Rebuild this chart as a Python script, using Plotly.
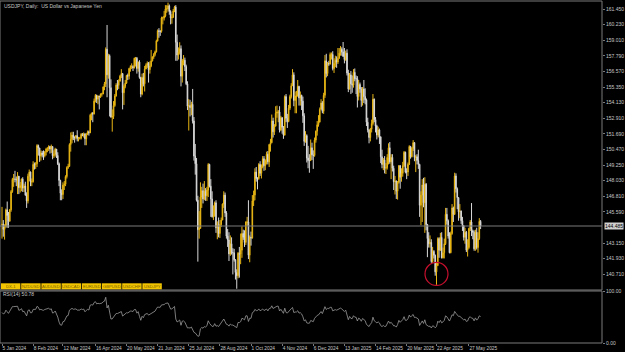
import numpy as np
import pandas as pd
import plotly.graph_objects as go

# ---------------- data (USDJPY daily) ----------------
closes = [
    144.62,
    144.22, 144.45, 145.75, 145.30, 144.85,
    145.75, 147.18, 148.13, 148.15, 148.14,
    148.10, 148.38, 147.48, 147.65, 148.15,
    147.45, 147.62, 146.90, 146.45, 148.38,
    148.70, 147.92, 147.95, 149.30, 149.28,
    149.35, 150.78, 150.58, 149.95, 150.20,
    150.05, 149.98, 150.28, 150.50, 150.52,
    150.70, 150.50, 150.70, 149.98, 150.10,
    150.50, 150.00, 149.35, 148.05, 147.05,
    146.95, 147.68, 147.75, 148.35, 149.05,
    149.15, 150.85, 151.25, 151.60, 151.40,
    151.40, 151.55, 151.33, 151.35, 151.35,
    151.65, 151.57, 151.67, 151.30, 151.62,
    151.85, 151.77, 153.15, 153.30, 153.25,
    154.25, 154.70, 154.40, 154.65, 154.60,
    154.80, 154.80, 155.35, 155.60, 158.30,
    156.30, 157.80, 155.30, 153.00, 153.05,
    153.90, 154.65, 155.50, 155.48, 155.80,
    156.20, 156.40, 154.90, 155.40, 155.65,
    156.25, 156.20, 156.80, 156.95, 156.95,
    156.85, 157.60, 157.60, 156.80, 157.30,
    156.10, 154.80, 156.10, 155.60, 156.75,
    157.05, 157.20, 156.70, 157.00, 157.40,
    157.70, 157.90, 158.10, 158.95, 159.75,
    159.70, 159.70, 160.75, 160.75, 160.90,
    161.45, 161.45, 161.70, 161.25, 160.75,
    160.80, 161.30, 161.60, 158.85, 157.85,
    158.05, 158.35, 156.20, 157.40, 157.45,
    156.95, 155.60, 153.85, 153.90, 153.75,
    154.00, 152.70, 149.95, 149.35, 146.50,
    144.20, 144.30, 146.75, 147.25, 146.60,
    147.20, 146.85, 147.30, 149.30, 147.60,
    146.60, 145.20, 145.25, 146.30, 144.35,
    144.55, 143.90, 144.60, 144.95, 146.20,
    146.90, 145.50, 143.70, 143.40, 142.30,
    143.10, 142.40, 142.40, 141.85, 140.85,
    140.60, 142.35, 142.30, 142.60, 143.90,
    143.60, 143.20, 144.80, 144.80, 142.20,
    143.60, 143.55, 146.45, 146.90, 148.70,
    148.20, 148.20, 149.30, 148.60, 149.10,
    149.75, 149.20, 149.60, 150.10, 149.50,
    150.85, 151.00, 152.70, 151.85, 152.30,
    153.30, 153.40, 153.40, 152.00, 152.95,
    152.20, 151.60, 154.60, 152.90, 152.65,
    153.70, 154.60, 155.45, 156.30, 154.30,
    154.65, 154.65, 155.40, 154.50, 154.70,
    154.25, 153.10, 151.10, 151.55, 149.80,
    149.60, 149.60, 150.60, 150.05, 150.00,
    151.20, 151.90, 152.40, 152.60, 153.60,
    154.10, 153.45, 154.70, 157.40, 156.40,
    157.20, 157.15, 157.90, 157.90,
    156.80, 157.20, 157.45, 157.30,
    157.60, 158.00, 158.30, 158.10, 157.75,
    157.50, 158.00, 156.45, 155.20, 156.30,
    155.60, 155.50, 156.50, 156.00, 156.00,
    154.60, 155.55, 155.20, 154.30, 155.20,
    154.60, 154.35, 152.60, 152.00, 151.40,
    152.05, 152.50, 154.40, 152.80, 152.30,
    151.60, 152.00, 151.45, 149.90, 149.30,
    149.65, 149.00, 149.05, 149.85, 150.60,
    149.50, 149.85, 149.00, 147.95, 148.00,
    147.20, 147.90, 149.20, 148.30, 148.60,
    149.20, 150.25, 148.70, 148.70, 149.30,
    150.70, 149.90, 150.55, 151.00, 149.85,
    149.90, 149.60, 149.30, 146.10, 146.90,
    147.70, 146.30, 147.75, 144.60, 143.50,
    143.10, 143.20, 141.70, 142.50, 142.20,
    140.90, 141.40, 143.50, 142.60, 143.60,
    142.00, 142.40, 143.10, 145.40, 144.90,
    143.70, 142.40, 143.90, 145.90, 145.40,
    148.40, 147.40, 146.70, 145.60, 145.65,
    144.90, 144.50, 143.60, 144.00, 142.60,
    142.80, 144.30, 144.80, 144.10, 144.00,
    142.70, 144.00, 142.80, 143.50, 144.85,
    144.485,
]

highs = [
    145.98,
    144.95, 144.62, 145.85, 146.40, 145.58,
    145.82, 147.30, 148.25, 148.55, 148.80,
    148.35, 148.70, 148.40, 147.92, 148.20,
    148.30, 147.80, 147.95, 147.12, 148.58,
    148.90, 148.75, 148.20, 149.55, 149.45,
    149.48, 150.88, 150.85, 150.60, 150.40,
    150.35, 150.40, 150.35, 150.60, 150.65,
    150.80, 150.75, 150.85, 150.70, 150.40,
    150.60, 150.50, 150.25, 149.45, 148.10,
    147.35, 147.90, 148.00, 148.45, 149.15,
    149.35, 150.95, 151.80, 151.85, 151.85,
    151.50, 151.60, 151.97, 151.45, 151.45,
    151.75, 151.75, 151.80, 151.75, 151.75,
    151.95, 151.95, 153.25, 153.35, 153.40,
    154.45, 154.80, 154.75, 154.70, 154.65,
    154.85, 154.90, 155.40, 155.75, 158.45,
    160.20, 157.95, 157.90, 155.95, 153.60,
    154.25, 154.80, 155.65, 155.90, 155.95,
    156.30, 156.75, 156.45, 155.55, 155.90,
    156.30, 156.40, 156.85, 157.05, 157.20,
    157.05, 157.65, 157.70, 157.70, 157.35,
    157.45, 156.15, 156.40, 156.45, 157.00,
    157.20, 157.35, 157.30, 157.35, 158.25,
    157.75, 158.00, 158.20, 159.05, 159.85,
    159.95, 159.80, 160.85, 160.85, 161.30,
    161.75, 161.75, 161.95, 161.80, 161.35,
    161.05, 161.45, 161.70, 161.75, 159.45,
    158.45, 158.85, 158.60, 157.55, 157.85,
    157.65, 157.10, 155.80, 154.40, 154.35,
    154.20, 155.20, 153.00, 150.90, 149.80,
    146.85, 145.65, 147.90, 147.55, 147.80,
    148.00, 147.45, 147.55, 149.40, 149.35,
    148.15, 147.20, 146.10, 146.40, 146.50,
    144.85, 145.15, 144.95, 145.15, 146.25,
    147.20, 147.10, 145.65, 144.25, 144.00,
    143.75, 143.60, 142.75, 142.70, 141.90,
    141.10, 142.45, 142.85, 143.90, 144.45,
    144.20, 144.15, 144.85, 145.20, 146.50,
    143.75, 144.05, 146.90, 147.25, 149.00,
    149.10, 148.30, 149.40, 149.55, 149.30,
    149.95, 149.95, 149.70, 150.30, 150.35,
    150.90, 151.30, 153.20, 152.95, 152.45,
    153.85, 153.90, 153.55, 153.85, 153.10,
    153.00, 152.30, 154.70, 154.80, 153.25,
    153.95, 154.75, 155.65, 156.75, 156.50,
    155.00, 155.05, 155.90, 155.45, 155.00,
    154.75, 154.60, 153.30, 151.90, 151.65,
    150.75, 150.10, 151.25, 151.00, 150.40,
    151.40, 151.95, 152.70, 153.15, 153.75,
    154.40, 154.25, 154.90, 157.85, 157.95,
    157.30, 157.40, 158.05, 158.05,
    158.15, 157.60, 157.80, 157.75,
    158.40, 158.40, 158.55, 158.45, 158.87,
    158.40, 158.20, 158.30, 156.70, 156.45,
    156.60, 156.25, 156.75, 156.80, 156.25,
    156.20, 155.90, 155.70, 155.35, 155.35,
    155.90, 155.25, 154.45, 152.95, 152.05,
    152.15, 152.80, 154.80, 154.45, 153.00,
    152.40, 152.25, 152.10, 151.50, 150.45,
    149.80, 149.95, 149.40, 150.10, 150.95,
    151.05, 150.10, 150.10, 149.20, 148.40,
    148.05, 148.00, 149.25, 149.25, 149.00,
    149.50, 150.35, 150.30, 149.00, 149.45,
    150.80, 150.75, 150.65, 151.20, 151.05,
    150.05, 150.10, 150.45, 149.35, 147.20,
    148.15, 148.25, 148.30, 147.85, 144.65,
    144.00, 143.75, 143.45, 142.85, 142.60,
    142.25, 141.65, 143.60, 143.60, 143.95,
    144.00, 142.80, 143.50, 145.90, 145.90,
    145.00, 144.00, 144.05, 146.20, 146.00,
    148.65, 148.60, 147.50, 146.75, 146.20,
    145.70, 145.20, 144.55, 144.35, 144.10,
    143.45, 144.35, 144.95, 146.28, 144.20,
    144.15, 144.20, 144.35, 144.00, 145.10,
    144.95,
]

lows = [
    143.50,
    143.65, 143.42, 144.35, 144.35, 144.35,
    144.85, 145.60, 147.08, 147.55, 147.90,
    147.60, 146.98, 146.98, 147.10, 147.20,
    147.15, 147.15, 146.85, 145.90, 146.25,
    148.00, 147.60, 147.60, 147.88, 148.90,
    148.95, 149.10, 150.00, 149.50, 149.60,
    149.85, 149.65, 149.85, 150.00, 150.25,
    150.35, 150.15, 150.20, 149.70, 149.80,
    149.90, 149.80, 149.25, 147.60, 146.50,
    146.50, 146.60, 147.30, 147.60, 148.20,
    148.95, 149.10, 150.30, 150.95, 151.20,
    151.00, 151.25, 151.10, 151.10, 151.25,
    151.25, 151.50, 151.40, 150.80, 150.80,
    151.60, 151.55, 151.75, 152.75, 152.60,
    153.20, 154.15, 154.10, 154.00, 153.60,
    154.50, 154.60, 154.80, 155.10, 155.35,
    154.55, 156.00, 153.05, 152.95, 151.86,
    152.85, 153.80, 154.60, 155.10, 155.20,
    155.80, 156.05, 153.60, 153.95, 155.25,
    155.60, 155.90, 155.95, 156.55, 156.75,
    156.60, 156.80, 156.95, 156.40, 156.55,
    156.00, 154.55, 154.70, 155.40, 155.00,
    156.75, 156.85, 155.70, 156.40, 156.90,
    157.35, 157.55, 157.75, 158.05, 158.90,
    159.20, 159.35, 159.60, 160.25, 160.55,
    160.80, 161.15, 161.25, 161.00, 160.25,
    160.30, 160.75, 161.20, 157.40, 157.40,
    157.50, 157.90, 155.40, 155.70, 157.05,
    156.60, 155.50, 153.55, 151.95, 153.05,
    153.15, 152.50, 149.60, 148.50, 146.40,
    141.70, 143.50, 144.30, 145.90, 146.25,
    146.50, 146.45, 146.45, 146.75, 147.50,
    145.20, 145.15, 144.95, 145.25, 143.95,
    143.45, 143.60, 143.55, 144.40, 144.95,
    145.90, 145.20, 143.50, 142.85, 141.75,
    142.15, 142.25, 140.70, 141.70, 140.30,
    139.58, 140.40, 140.45, 141.50, 142.00,
    143.40, 142.85, 143.00, 144.50, 141.90,
    141.65, 142.95, 143.50, 146.05, 146.50,
    147.95, 147.35, 148.10, 148.40, 148.20,
    149.00, 148.80, 148.85, 149.30, 149.30,
    149.10, 150.30, 150.95, 151.40, 151.60,
    152.25, 152.95, 152.60, 151.80, 151.90,
    151.70, 151.30, 151.55, 152.60, 152.15,
    152.60, 153.55, 154.45, 155.45, 153.85,
    153.30, 153.30, 154.60, 153.90, 153.90,
    153.55, 152.55, 150.75, 151.00, 149.45,
    149.00, 148.65, 149.60, 149.65, 148.95,
    149.90, 151.00, 151.55, 152.25, 152.60,
    153.60, 153.30, 153.25, 154.50, 156.10,
    156.20, 157.00, 157.10, 157.50,
    156.65, 156.45, 156.90, 156.85,
    157.15, 157.55, 157.80, 157.80, 157.70,
    157.20, 157.40, 156.25, 154.95, 155.15,
    154.80, 154.90, 155.30, 155.80, 154.80,
    153.75, 154.30, 154.90, 153.80, 153.90,
    154.10, 154.00, 152.30, 151.80, 150.95,
    151.10, 151.80, 152.35, 152.60, 151.80,
    151.25, 151.40, 150.90, 149.40, 149.00,
    148.85, 148.60, 148.55, 148.90, 149.30,
    149.35, 148.15, 148.75, 147.30, 146.95,
    146.60, 146.55, 147.80, 147.40, 147.95,
    148.35, 149.10, 148.60, 148.15, 148.40,
    149.25, 149.75, 149.85, 150.35, 149.55,
    148.70, 149.30, 148.95, 145.20, 144.55,
    144.80, 145.95, 143.95, 144.15, 142.05,
    142.80, 142.80, 141.60, 141.60, 141.95,
    140.60, 139.89, 141.35, 142.00, 142.55,
    141.95, 141.95, 141.95, 143.00, 144.60,
    143.50, 142.35, 142.35, 143.80, 144.80,
    145.35, 147.10, 145.80, 144.90, 145.10,
    144.65, 144.10, 143.35, 143.10, 142.45,
    142.10, 142.70, 144.10, 143.70, 143.45,
    142.55, 142.55, 142.65, 142.40, 143.40,
    144.25,
]

# closes of the days before the first bar (RSI warm-up only)
warmup_closes = [142.90, 141.90, 142.15, 142.80, 143.80, 143.55, 142.10, 142.40,
                 142.45, 141.80, 141.40, 141.00, 142.00, 143.30, 144.60]

x_tick_dates = ["2024-01-05", "2024-02-08", "2024-03-12", "2024-04-16", "2024-05-20",
                "2024-06-21", "2024-07-25", "2024-08-28", "2024-10-01", "2024-11-04",
                "2024-12-06", "2025-01-13", "2025-02-14", "2025-03-20", "2025-04-22",
                "2025-05-27"]
x_tick_text = ["5 Jan 2024", "8 Feb 2024", "12 Mar 2024", "16 Apr 2024", "20 May 2024",
               "21 Jun 2024", "25 Jul 2024", "28 Aug 2024", "1 Oct 2024", "4 Nov 2024",
               "6 Dec 2024", "13 Jan 2025", "14 Feb 2025", "20 Mar 2025", "22 Apr 2025",
               "27 May 2025"]
price_ticks = [140.710, 141.930, 143.150, 145.590, 146.810, 148.030, 149.250, 150.470,
               151.690, 152.910, 154.130, 155.350, 156.570, 157.790, 159.010, 160.230,
               161.450]
symbol_tabs = ["DX-1", "NZDUSD", "AUDUSD", "USDCAD", "EURUSD", "GBPUSD", "USDCHF", "USDJPY"]
rsi_period = 14
circled_date = "2025-04-22"
title_text = "USDJPY, Daily:  US Dollar vs Japanese Yen"
rsi_text = "RSI(14) 50.78"

# ---------------- derived ----------------
n = len(closes)
all_days = pd.bdate_range("2024-01-05", "2025-06-30")
all_days = [d for d in all_days if d.strftime("%Y-%m-%d") not in ("2024-12-25", "2025-01-01")]
dates = all_days[:n]
date_pos = {d.strftime("%Y-%m-%d"): i for i, d in enumerate(dates)}
tick_idx = [date_pos[d] for d in x_tick_dates]
idx = list(range(n))
opens = [warmup_closes[-1]] + closes[:-1]

allc = np.array(warmup_closes + closes, dtype=float)
diff = np.diff(allc)
gain = np.clip(diff, 0, None)
loss = np.clip(-diff, 0, None)
ag = gain[:rsi_period].mean()
al = loss[:rsi_period].mean()
rsi = []
for k in range(rsi_period, len(diff)):
    ag = (ag * (rsi_period - 1) + gain[k]) / rsi_period
    al = (al * (rsi_period - 1) + loss[k]) / rsi_period
    rsi.append(100.0 if al == 0 else 100 - 100 / (1 + ag / al))

# ---------------- geometry helpers (pixels -> paper) ----------------
W, H = 625, 352
PL, PR, PT, PB = 0, 602, 1, 343


def pxx(x):
    return (x - PL) / (PR - PL)


def pxy(y):
    return (PB - y) / (PB - PT)


FONT = "Liberation Sans"
TXT = "#c8c8c8"
GRAY = "#7a7a7a"
UP = "#e8b614"
DOWN = "#d8d8d8"

fig = go.Figure()
fig.add_trace(go.Candlestick(
    x=idx, open=opens, high=highs, low=lows, close=closes,
    increasing=dict(line=dict(color=UP, width=1), fillcolor=UP),
    decreasing=dict(line=dict(color=DOWN, width=1), fillcolor=DOWN),
    whiskerwidth=0, hoverinfo="skip", xaxis="x", yaxis="y", showlegend=False,
))

ic = date_pos[circled_date]
fig.add_trace(go.Scatter(
    x=[ic], y=[lows[ic] + 0.85], mode="markers",
    marker=dict(symbol="circle-open", size=23, color="#c8102e", line=dict(width=1.2)),
    hoverinfo="skip", showlegend=False, xaxis="x", yaxis="y",
))

fig.add_trace(go.Scatter(
    x=idx, y=rsi, mode="lines", line=dict(color="#9a9a9a", width=0.8),
    hoverinfo="skip", showlegend=False, xaxis="x2", yaxis="y2",
))

xr = [-1.54, 462.6]
shapes = [
    dict(type="rect", xref="paper", yref="paper", x0=0, x1=1, y0=pxy(290), y1=1,
         line=dict(color=GRAY, width=1)),
    dict(type="rect", xref="paper", yref="paper", x0=0, x1=1, y0=0, y1=pxy(291),
         line=dict(color=GRAY, width=1)),
    dict(type="line", xref="paper", yref="y", x0=0, x1=1, y0=closes[-1], y1=closes[-1],
         line=dict(color=GRAY, width=1)),
]
annotations = [
    dict(text=title_text, xref="paper", yref="paper", x=pxx(2), y=pxy(6),
         xanchor="left", yanchor="middle", showarrow=False,
         font=dict(family=FONT, size=5, color=TXT)),
    dict(text=rsi_text, xref="paper", yref="paper", x=pxx(1), y=pxy(293.5),
         xanchor="left", yanchor="middle", showarrow=False,
         font=dict(family=FONT, size=5, color=TXT)),
    dict(text=f"{closes[-1]:.3f}", xref="paper", yref="y", x=pxx(603.5), y=closes[-1],
         xanchor="left", yanchor="middle", showarrow=False, bgcolor="#d0d0d0",
         borderpad=0, font=dict(family=FONT, size=5, color="#000000")),
]
for i, name in enumerate(symbol_tabs):
    x0 = 1 + 20.2 * i
    shapes.append(dict(type="rect", xref="paper", yref="paper",
                       x0=pxx(x0), x1=pxx(x0 + 19.4), y0=pxy(289.3), y1=pxy(283.3),
                       fillcolor="#f2c500", line=dict(width=0)))
    annotations.append(dict(text=name, xref="paper", yref="paper",
                            x=pxx(x0 + 9.7), y=pxy(286.3), xanchor="center",
                            yanchor="middle", showarrow=False,
                            font=dict(family=FONT, size=4.2, color="#7a5c00")))

fig.update_layout(
    width=W, height=H,
    margin=dict(l=PL, r=W - PR, t=PT, b=H - PB, pad=0, autoexpand=False),
    paper_bgcolor="#000000", plot_bgcolor="#000000",
    showlegend=False,
    xaxis=dict(domain=[0, 1], range=xr, anchor="y", showticklabels=False,
               showgrid=False, zeroline=False, rangeslider=dict(visible=False),
               automargin=False),
    yaxis=dict(domain=[pxy(290), 1], range=[139.483, 162.075], side="right",
               anchor="x", tickvals=price_ticks, ticktext=[f"{v:.3f}" for v in price_ticks],
               showgrid=False, zeroline=False, ticks="outside", ticklen=2, automargin=False,
               tickcolor=GRAY, tickfont=dict(family=FONT, size=5, color=TXT)),
    xaxis2=dict(domain=[0, 1], range=xr, anchor="y2", matches="x",
                tickvals=tick_idx, ticktext=x_tick_text, ticklabelposition="outside right",
                tickangle=0, automargin=False,
                showgrid=False, zeroline=False, ticks="outside", ticklen=2,
                tickcolor=GRAY, tickfont=dict(family=FONT, size=4.8, color=TXT)),
    yaxis2=dict(domain=[0, pxy(291)], range=[0, 100], side="right", anchor="x2",
                tickvals=[0, 100], ticktext=["0.00", "100.00"], showgrid=False,
                zeroline=False, ticks="outside", ticklen=2, tickcolor=GRAY, automargin=False,
                tickfont=dict(family=FONT, size=5, color=TXT)),
    shapes=shapes, annotations=annotations,
)

fig.write_html("out.html")
